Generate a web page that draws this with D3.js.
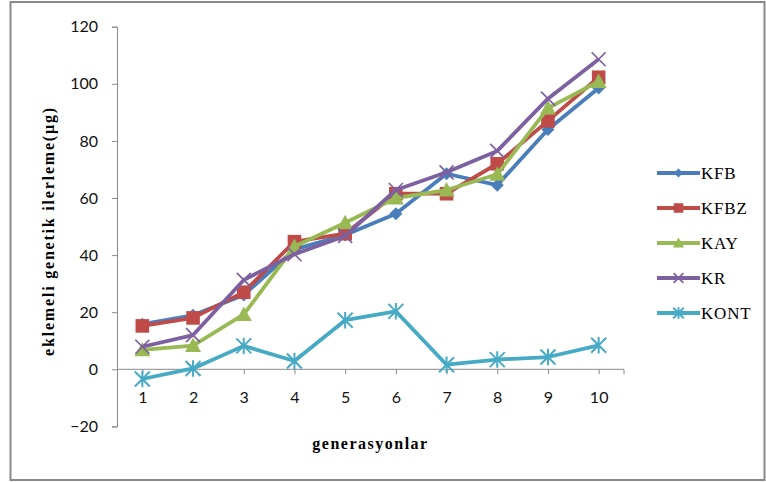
<!DOCTYPE html>
<html><head><meta charset="utf-8">
<script src="https://cdn.jsdelivr.net/npm/d3@7"></script>
<style>body{margin:0;background:#fff}svg{display:block}
.serif{font-family:"Liberation Serif","Times New Roman",Times,"DejaVu Serif",serif}
.sans{font-family:Lato,"Open Sans","Liberation Sans",sans-serif}
</style>
</head><body>
<svg id="chart" width="766" height="482"></svg>
<script>
const categories = ["1","2","3","4","5","6","7","8","9","10"];
const seriesNames = ["KFB","KFBZ","KAY","KR","KONT"];
const KFB  = [15.8, 18.9, 26.0, 42.0, 47.0, 54.5, 68.5, 64.5, 84.0, 98.5];
const KFBZ = [15.2, 18.0, 27.0, 44.7, 47.5, 61.5, 61.5, 72.0, 87.0, 102.3];
const KAY  = [6.8, 8.3, 19.2, 43.0, 51.3, 60.0, 62.8, 68.3, 91.5, 100.8];
const KR   = [7.9, 12.0, 31.3, 40.3, 46.7, 62.8, 69.0, 76.5, 94.8, 108.6];
const KONT = [-3.4, 0.3, 8.2, 2.9, 17.2, 20.3, 1.6, 3.4, 4.3, 8.4];
const yTicks = [-20, 0, 20, 40, 60, 80, 100, 120];
const colors = ["#4A7EBB", "#BE4B48", "#98B954", "#7D60A0", "#46AAC5"];
const markers = ["diamond", "square", "triangle", "x", "star"];
const seriesValues = [KFB, KFBZ, KAY, KR, KONT];

const svg = d3.select("#chart");
svg.append("rect").attr("x", 10.5).attr("y", 2).attr("width", 754).attr("height", 478)
  .attr("fill", "none").attr("stroke", "#888").attr("stroke-width", 2);

const x = d3.scalePoint().domain(categories).range([117, 624]).padding(0.5);
const y = d3.scaleLinear().domain([-20, 120]).range([426.4, 26.7]);
const axisColor = "#8a8a8a";

const ya = svg.append("g").attr("transform", "translate(117,0)")
  .call(d3.axisLeft(y).tickValues(yTicks).tickSize(5).tickPadding(14));
ya.select(".domain").attr("stroke", axisColor);
ya.selectAll(".tick line").attr("stroke", axisColor);
ya.selectAll(".tick text").attr("class", "sans").attr("font-family", null)
  .attr("font-size", 16).attr("fill", "#111");

const xa = svg.append("g").attr("transform", `translate(0,${y(0)})`)
  .call(d3.axisBottom(x).tickSize(5).tickPadding(17).tickSizeOuter(0));
xa.select(".domain").attr("stroke", axisColor).attr("d", `M117,0H624`);
xa.selectAll(".tick line").attr("stroke", axisColor);
xa.selectAll(".tick text").attr("class", "sans").attr("font-family", null)
  .attr("font-size", 16).attr("fill", "#111");
xa.append("line").attr("x1", 624).attr("x2", 624).attr("y1", 0).attr("y2", 5).attr("stroke", axisColor);
ya.attr("font-family", null); xa.attr("font-family", null);

svg.append("text").attr("class", "serif").attr("x", 370.5).attr("y", 449)
  .attr("text-anchor", "middle")
  .attr("font-weight", "bold").attr("font-size", 16).attr("letter-spacing", 1.5)
  .text("generasyonlar");
svg.append("text").attr("class", "serif").attr("transform", "translate(54,231) rotate(-90)")
  .attr("text-anchor", "middle")
  .attr("font-weight", "bold").attr("font-size", 16).attr("letter-spacing", 1.8)
  .text("eklemeli genetik ilerleme(µg)");

function drawMarker(g, type, color, cx, cy, scale) {
  const s = scale || 1;
  if (type === "diamond") {
    const r = 6.5 * s;
    g.append("path").attr("d", `M${cx},${cy - r}L${cx + r},${cy}L${cx},${cy + r}L${cx - r},${cy}Z`).attr("fill", color);
  } else if (type === "square") {
    const r = 6.8 * s;
    g.append("rect").attr("x", cx - r).attr("y", cy - r).attr("width", 2 * r).attr("height", 2 * r).attr("fill", color);
  } else if (type === "triangle") {
    const r = 8 * s;
    g.append("path").attr("d", `M${cx},${cy - r}L${cx + r},${cy + r * 0.8}L${cx - r},${cy + r * 0.8}Z`).attr("fill", color);
  } else if (type === "x") {
    const r = 7 * s;
    g.append("path").attr("d", `M${cx - r},${cy - r}L${cx + r},${cy + r}M${cx - r},${cy + r}L${cx + r},${cy - r}`)
      .attr("stroke", color).attr("stroke-width", 1.7).attr("fill", "none");
  } else if (type === "star") {
    const r = 7.5 * s;
    g.append("path").attr("d", `M${cx - r},${cy - r}L${cx + r},${cy + r}M${cx - r},${cy + r}L${cx + r},${cy - r}M${cx},${cy - r * 1.1}L${cx},${cy + r * 1.1}`)
      .attr("stroke", color).attr("stroke-width", 2).attr("fill", "none");
  }
}

const line = d3.line().x((d, i) => x(categories[i])).y(d => y(d));
seriesValues.forEach((vals, si) => {
  const g = svg.append("g");
  g.append("path").datum(vals).attr("d", line).attr("fill", "none")
    .attr("stroke", colors[si]).attr("stroke-width", 3.8).attr("stroke-linejoin", "round");
  vals.forEach((v, i) => drawMarker(g, markers[si], colors[si], x(categories[i]), y(v), 1));
});

seriesNames.forEach((name, si) => {
  const ly = 173 + si * 35;
  const g = svg.append("g");
  g.append("line").attr("x1", 657).attr("x2", 700).attr("y1", ly).attr("y2", ly)
    .attr("stroke", colors[si]).attr("stroke-width", 3.8);
  drawMarker(g, markers[si], colors[si], 678.5, ly, 0.7);
  g.append("text").attr("class", "serif").attr("x", 701).attr("y", ly + 6)
    .attr("font-size", 17).attr("letter-spacing", 0.8).attr("fill", "#000").text(name);
});
</script>
</body></html>
